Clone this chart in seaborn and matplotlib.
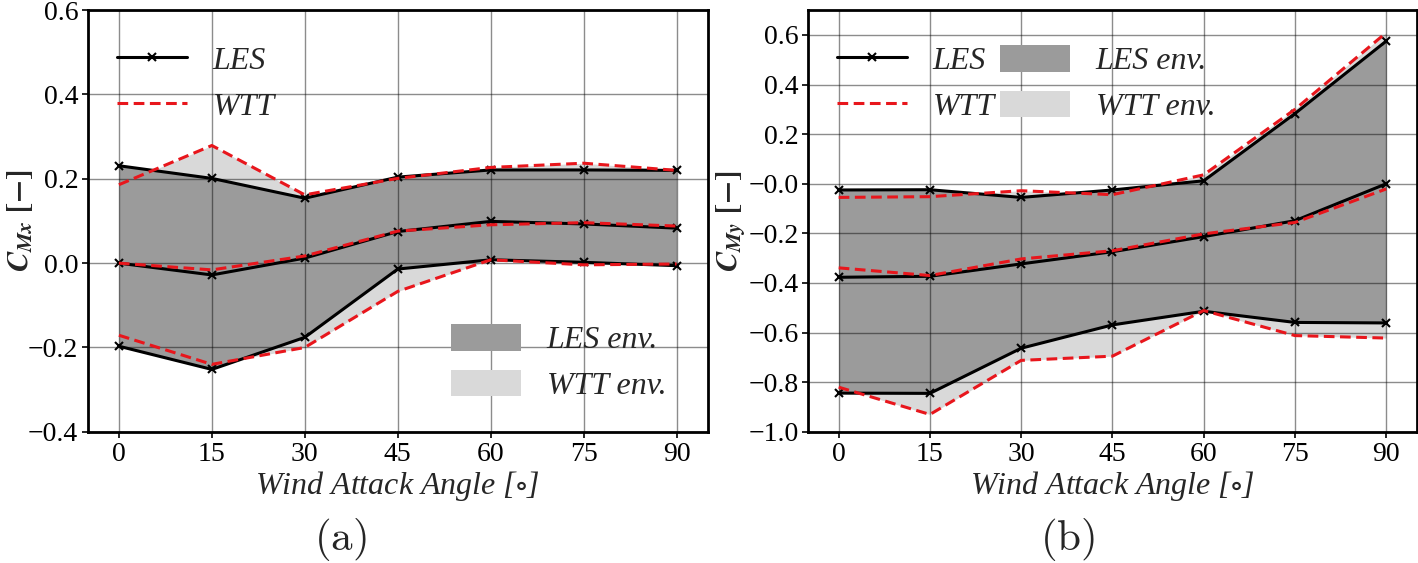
import numpy as np
import pandas as pd
import matplotlib
matplotlib.use("Agg")
import matplotlib.pyplot as plt
from matplotlib.lines import Line2D
from matplotlib.patches import Patch
from matplotlib.ticker import FuncFormatter
import seaborn as sns

angles = [0, 15, 30, 45, 60, 75, 90]

# (a) C_Mx
mx_les_max = [0.231, 0.201, 0.154, 0.204, 0.221, 0.221, 0.220]
mx_les_mean = [0.000, -0.028, 0.012, 0.075, 0.099, 0.093, 0.083]
mx_les_min = [-0.197, -0.252, -0.176, -0.014, 0.008, 0.002, -0.006]
mx_wtt_max = [0.186, 0.279, 0.162, 0.201, 0.227, 0.237, 0.220]
mx_wtt_mean = [0.000, -0.016, 0.017, 0.076, 0.091, 0.096, 0.088]
mx_wtt_min = [-0.171, -0.240, -0.200, -0.067, 0.008, -0.004, -0.002]

# (b) C_My
my_les_max = [-0.025, -0.024, -0.055, -0.025, 0.012, 0.283, 0.575]
my_les_mean = [-0.377, -0.373, -0.323, -0.274, -0.213, -0.149, 0.000]
my_les_min = [-0.844, -0.845, -0.663, -0.569, -0.514, -0.559, -0.561]
my_wtt_max = [-0.055, -0.052, -0.028, -0.044, 0.036, 0.300, 0.609]
my_wtt_mean = [-0.339, -0.370, -0.303, -0.270, -0.202, -0.156, -0.021]
my_wtt_min = [-0.820, -0.930, -0.712, -0.695, -0.511, -0.612, -0.622]

LES_ENV = "#9b9b9b"
WTT_ENV = "#d9d9d9"
RED = "#e8161c"

sns.set_theme(style="ticks")
plt.rcParams["font.family"] = ["Liberation Serif", "DejaVu Serif"]
plt.rcParams["mathtext.fontset"] = "stix"

FS = 20
DASH = (0, (3.5, 1.8))


def minus_fmt(v, pos):
    return f"{v:.1f}".replace("-", "\u2212")


def draw_panel(ax, les, wtt):
    les_max, les_mean, les_min = les
    wtt_max, wtt_mean, wtt_min = wtt
    ax.fill_between(angles, wtt_min, wtt_max, color=WTT_ENV, lw=0, zorder=1)
    ax.fill_between(angles, les_min, les_max, color=LES_ENV, lw=0, zorder=2)
    for ys in (les_max, les_mean, les_min):
        sns.lineplot(x=angles, y=ys, ax=ax, color="black", lw=2.2, marker="x",
                     markersize=6, markeredgewidth=1.5, mec="black", zorder=4)
    for ys in (wtt_max, wtt_mean, wtt_min):
        sns.lineplot(x=angles, y=ys, ax=ax, color=RED, lw=2.2, ls=DASH, zorder=5)
    ax.set_xlim(-5, 95)
    ax.set_xticks(angles)
    ax.grid(True, color="black", alpha=0.45, lw=1.0, zorder=3)
    ax.set_axisbelow(False)
    for s in ax.spines.values():
        s.set_linewidth(2.0)
        s.set_color("black")
    ax.tick_params(labelsize=FS, direction="out", length=4, width=1.2,
                   colors="black", pad=3)
    ax.yaxis.set_major_formatter(FuncFormatter(minus_fmt))
    ax.set_xlabel(r"Wind Attack Angle [$\circ$]", fontsize=FS + 3, style="italic",
                  labelpad=2)


fig = plt.figure(figsize=(14.18, 5.63), dpi=100)
ax1 = fig.add_axes([0.062, 0.233, 0.437, 0.749])
ax2 = fig.add_axes([0.570, 0.233, 0.429, 0.749])

draw_panel(ax1, (mx_les_max, mx_les_mean, mx_les_min),
           (mx_wtt_max, mx_wtt_mean, mx_wtt_min))
draw_panel(ax2, (my_les_max, my_les_mean, my_les_min),
           (my_wtt_max, my_wtt_mean, my_wtt_min))

ax1.set_ylim(-0.4, 0.6)
ax1.set_yticks(np.arange(-0.4, 0.61, 0.2))
ax2.set_ylim(-1.0, 0.7)
ax2.set_yticks(np.arange(-1.0, 0.61, 0.2))

ax1.set_ylabel(r"$\mathbfit{C}_{\mathbfit{Mx}}\ \mathbf{[-]}$", fontsize=FS + 2)
ax2.set_ylabel(r"$\mathbfit{C}_{\mathbfit{My}}\ \mathbf{[-]}$", fontsize=FS + 2)
ax1.yaxis.set_label_coords(-0.085, 0.5)
ax2.yaxis.set_label_coords(-0.1, 0.5)

les_h = Line2D([], [], color="black", lw=2.2, marker="x", markersize=6,
               markeredgewidth=1.5)
wtt_h = Line2D([], [], color=RED, lw=2.2, ls=DASH)
les_env_h = Patch(facecolor=LES_ENV, edgecolor="none")
wtt_env_h = Patch(facecolor=WTT_ENV, edgecolor="none")
leg_kw = dict(frameon=False, handlelength=2.2, handleheight=0.9,
              handletextpad=0.8, labelspacing=0.45,
              prop={"family": "Liberation Serif", "style": "italic",
                    "size": FS + 3})

leg1 = ax1.legend([les_h, wtt_h], ["LES", "WTT"], loc="upper left",
                  bbox_to_anchor=(0.0, 0.985), **leg_kw)
ax1.add_artist(leg1)
ax1.legend([les_env_h, wtt_env_h], ["LES env.", "WTT env."], loc="lower right",
           bbox_to_anchor=(0.98, 0.005), **leg_kw)

ax2.legend([les_h, wtt_h, les_env_h, wtt_env_h],
           ["LES", "WTT", "LES env.", "WTT env."], ncol=2, loc="upper left",
           bbox_to_anchor=(0.0, 0.985), columnspacing=0.15, **leg_kw)

fig.text(0.24, 0.042, r"$\mathrm{(a)}$", fontsize=31, ha="center",
         va="center", math_fontfamily="cm")
fig.text(0.753, 0.042, r"$\mathrm{(b)}$", fontsize=31, ha="center",
         va="center", math_fontfamily="cm")

fig.savefig("out.png", dpi=100)
